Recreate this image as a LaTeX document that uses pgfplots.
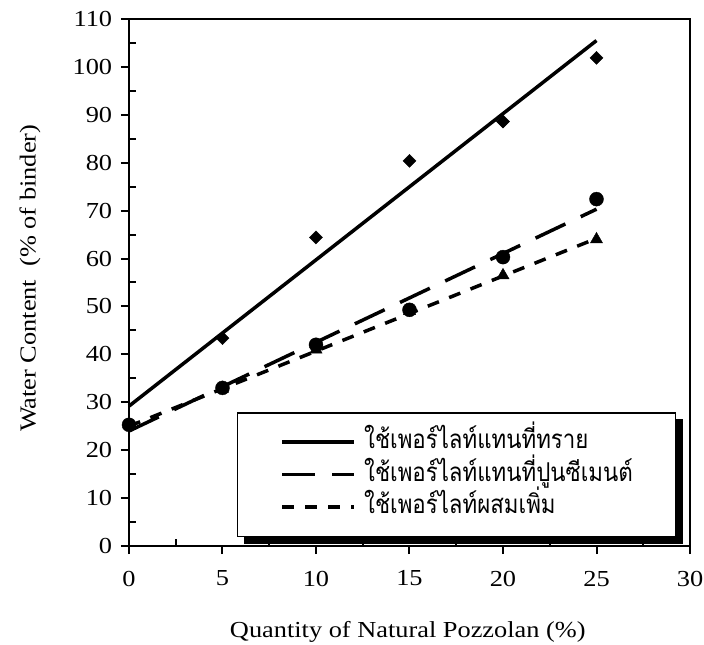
\documentclass[border=0pt]{standalone}
\usepackage{pgfplots}
\pgfplotsset{compat=1.18}
\usepackage{fontspec}
\setmainfont{Liberation Serif}[FakeStretch=1.15]
\newfontfamily\thaifont[Script=Thai, FakeStretch=0.86]{Loma}
\pgfdeclarelayer{background}
\pgfsetlayers{background,main}
\begin{document}
\fontsize{23}{27}\selectfont
\begin{tikzpicture}
\path[use as bounding box] (-129bp,-99bp) rectangle (575bp,546bp);
\begin{axis}[
  scale only axis, width=561bp, height=527bp,
  xmin=0, xmax=30, ymin=0, ymax=110,
  xtick={0,5,...,30}, ytick={0,10,...,110},
  minor x tick num=1, minor y tick num=1,
  tick pos=left,
  tick align=inside,
  major tick length=8bp, minor tick length=7bp,
  every major x tick/.append style={yshift=-8bp},
  every major y tick/.append style={xshift=-8bp},
  every tick/.style={black, line width=2bp},
  axis line style={line width=1.2bp},
  font=\fontsize{23}{27}\selectfont,
  ticklabel style={font=\fontsize{23}{27}\selectfont},
  xticklabel style={yshift=-17bp},
  yticklabel style={xshift=-9bp},
  /pgf/number format/assume math mode=true,
  xlabel={Quantity of Natural Pozzolan (\%)},
  ylabel={Water Content\ \ (\% of binder)},
  every axis x label/.style={at={(axis description cs:0.497,-0.163)}, anchor=center},
  every axis y label/.style={at={(axis description cs:-0.1765,0.508)}, rotate=90, anchor=center},
  clip=false,
  legend style={at={(axis description cs:0.1925,0.017)}, anchor=south west, name=leg,
    draw=black, line width=1.3bp, fill=white,
    inner xsep=43bp, inner ysep=13bp, row sep=0bp, column sep=8bp,
    nodes={inner sep=0bp, text height=22.75bp, text depth=9.75bp, anchor=west},
    font=\thaifont\fontsize{26}{30}\selectfont},
  legend cell align=left,
  legend image code/.code={\draw[#1] (0bp,0bp) -- (72bp,0bp);},
]
\addplot[black, line width=3.5bp] coordinates {(0,29.2) (25,105.5)};
\addlegendentry{ใช้เพอร์ไลท์แทนที่ทราย}
\addplot[black, line width=3.5bp, dash pattern=on 33bp off 17bp] coordinates {(0,24.0) (25,70.3)};
\addlegendentry{ใช้เพอร์ไลท์แทนที่ปูนซีเมนต์}
\addplot[black, line width=3.5bp, dash pattern=on 12bp off 11bp] coordinates {(0,25.0) (25,64.2)};
\addlegendentry{ใช้เพอร์ไลท์ผสมเพิ่ม}
\addplot[forget plot, only marks, mark=square*, mark size=4.6bp, mark options={rotate=45, fill=black, draw=black}] coordinates {(0,25.3) (5,43.4) (10,64.4) (15,80.4) (20,88.6) (25,101.9)};
\addplot[forget plot, only marks, mark=*, mark size=7bp, mark options={fill=black, draw=black}] coordinates {(0,25.3) (5,33.0) (10,42.0) (15,49.3) (20,60.3) (25,72.4)};
\addplot[forget plot, only marks, mark=triangle*, mark size=7bp, mark options={fill=black, draw=black}] coordinates {(0,25.3) (5,32.8) (10,41.0) (15,49.0) (20,56.5) (25,64.0)};
\draw[line width=2bp] (rel axis cs:0,1) -- (rel axis cs:0,0) -- (rel axis cs:1,0);
\end{axis}
\begin{pgfonlayer}{background}
\fill[black] ([shift={(7bp,-7bp)}]leg.south west) rectangle ([shift={(7bp,-7bp)}]leg.north east);
\end{pgfonlayer}
\end{tikzpicture}
\end{document}
